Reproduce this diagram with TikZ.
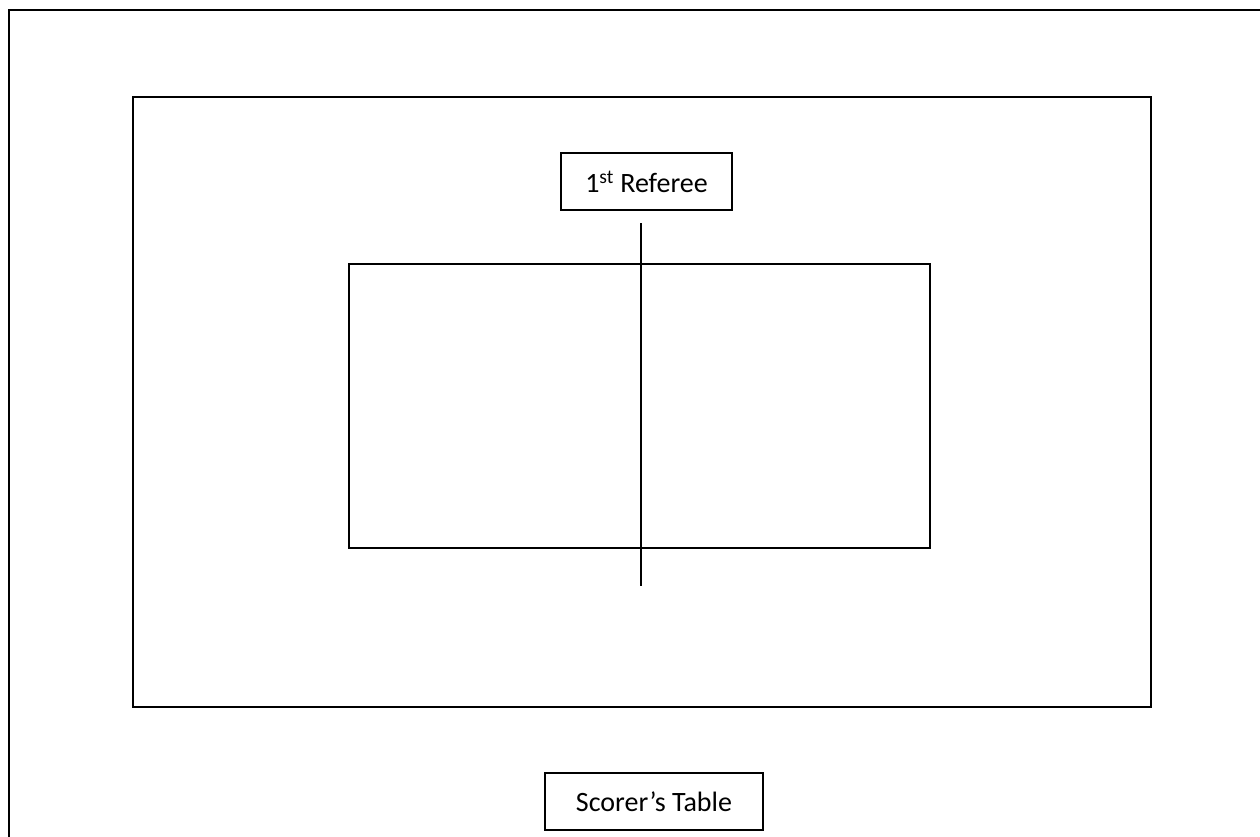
\documentclass[tikz,border=0pt]{standalone}
\usepackage{fontspec}
\setmainfont{Carlito}
\begin{document}
\begin{tikzpicture}[x=1pt,y=-1pt,
  ln/.style={line width=1.8pt},
  frame/.style={draw,line width=1.8pt,rectangle,inner sep=0pt},
  box/.style={frame,font=\fontsize{28}{33}\selectfont}]
\useasboundingbox (0,0) rectangle (1260,837);
\draw[ln] (1262,10) -- (9,10) -- (9,839);
\node[frame,minimum width=1018pt,minimum height=610pt] (hall) at (642,402) {};
\node[box,minimum width=171pt,minimum height=57pt] (ref) at (646.5,181.5) {1\textsuperscript{st} Referee};
\node[frame,minimum width=581pt,minimum height=284pt] (court) at (639.5,406) {};
\coordinate (nettop) at (641,223);
\coordinate (netbot) at (641,586);
\draw[ln] (nettop) -- (netbot);
\node[box,minimum width=218pt,minimum height=57pt] (score) at (654,801.5) {Scorer’s Table};
\end{tikzpicture}
\end{document}
